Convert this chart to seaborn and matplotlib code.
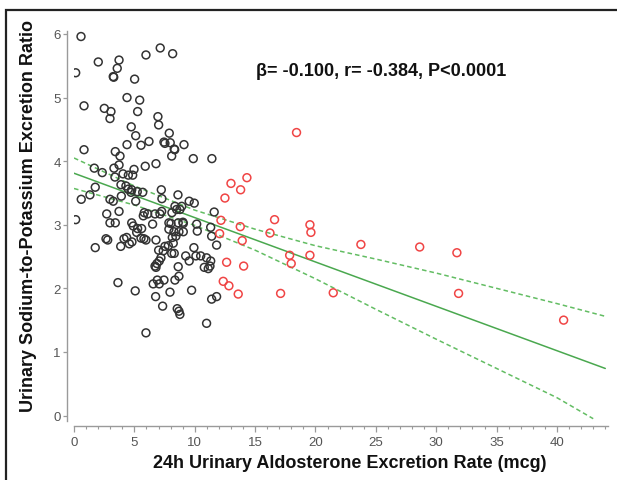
import numpy as np
import pandas as pd
import matplotlib
matplotlib.use("Agg")
import matplotlib.pyplot as plt
from matplotlib.patches import Rectangle
from matplotlib.ticker import MultipleLocator
import seaborn as sns

# ---- data ----
black_x = [0.58, 0.14, 2.01, 3.73, 3.58, 3.25, 3.29, 5.02, 5.96, 7.14, 8.17, 0.83, 2.51, 3.06, 2.98,
           4.39, 5.44, 5.27, 4.74, 5.11, 4.39, 5.55, 6.21, 6.95, 7.01, 7.45, 7.53, 7.89, 7.97, 8.30,
           8.34, 9.11, 8.09, 9.88, 11.42, 0.83, 3.42, 3.81, 6.79, 5.90, 4.97, 3.73, 3.31, 1.68, 2.34,
           4.06, 4.50, 4.86, 3.39, 3.89, 4.30, 4.50, 4.78, 4.72, 5.24, 5.69, 7.23, 8.61, 1.32, 1.76,
           0.60, 2.98, 3.25, 5.11, 3.92, 9.54, 9.96, 2.71, 3.73, 2.98, 3.42, 0.14, 4.78, 4.91, 5.27,
           5.60, 5.19, 5.82, 6.10, 5.74, 6.71, 7.26, 7.12, 8.36, 8.50, 8.77, 8.92, 8.11, 7.86, 8.03,
           8.63, 9.05, 6.51, 10.16, 7.86, 8.28, 8.69, 9.05, 10.21, 8.44, 11.40, 11.32, 2.65, 2.79, 4.14,
           4.36, 4.58, 4.80, 3.87, 5.55, 5.79, 6.79, 5.96, 1.76, 8.22, 7.81, 7.53, 8.09, 7.01, 8.30,
           7.20, 7.06, 6.87, 6.71, 6.79, 9.93, 9.25, 9.54, 10.10, 10.49, 10.98, 11.32, 11.26, 10.79, 11.12,
           11.81, 8.63, 8.69, 8.36, 6.90, 6.56, 7.06, 7.45, 3.64, 5.07, 9.74, 7.95, 6.76, 7.34, 8.55,
           8.69, 8.77, 11.81, 11.40, 10.98, 5.96, 7.28, 11.61, 9.02, 7.39, 8.14]
black_y = [5.96, 5.39, 5.56, 5.59, 5.46, 5.33, 5.32, 5.29, 5.67, 5.78, 5.69, 4.87, 4.83, 4.78, 4.67,
           5.00, 4.96, 4.78, 4.54, 4.40, 4.26, 4.25, 4.31, 4.70, 4.57, 4.30, 4.28, 4.44, 4.29, 4.19,
           4.18, 4.26, 4.08, 4.04, 4.04, 4.18, 4.15, 4.08, 3.96, 3.92, 3.87, 3.94, 3.89, 3.89, 3.82,
           3.80, 3.78, 3.78, 3.75, 3.63, 3.61, 3.56, 3.55, 3.51, 3.52, 3.51, 3.55, 3.47, 3.47, 3.59,
           3.40, 3.40, 3.37, 3.37, 3.45, 3.37, 3.34, 3.17, 3.21, 3.03, 3.03, 3.08, 3.03, 2.98, 2.94,
           2.94, 2.88, 3.19, 3.17, 3.14, 3.17, 3.21, 3.17, 3.29, 3.24, 3.24, 3.29, 3.19, 3.03, 3.02,
           3.03, 3.02, 3.01, 3.01, 2.93, 2.89, 2.89, 2.89, 2.90, 2.82, 2.82, 2.96, 2.78, 2.76, 2.78,
           2.80, 2.70, 2.73, 2.66, 2.79, 2.78, 2.76, 2.76, 2.64, 2.71, 2.67, 2.66, 2.55, 2.60, 2.55,
           2.48, 2.43, 2.39, 2.35, 2.33, 2.64, 2.51, 2.43, 2.51, 2.51, 2.48, 2.43, 2.35, 2.33, 2.31,
           2.68, 2.34, 2.19, 2.13, 2.13, 2.07, 2.07, 2.13, 2.09, 1.96, 1.97, 1.94, 1.87, 1.72, 1.68,
           1.64, 1.59, 1.87, 1.83, 1.45, 1.30, 3.41, 3.20, 3.04, 2.59, 2.80]

red_x = [18.43, 14.32, 13.00, 13.80, 12.50, 16.61, 19.54, 19.62, 12.17, 13.77, 12.06, 16.23, 13.93,
         23.76, 17.86, 19.54, 17.99, 12.64, 14.05, 12.36, 12.83, 13.60, 17.11, 21.47, 28.63, 31.71,
         31.85, 40.55]
red_y = [4.45, 3.74, 3.65, 3.55, 3.42, 3.08, 3.00, 2.88, 3.07, 2.97, 2.86, 2.87, 2.75,
         2.69, 2.52, 2.52, 2.39, 2.41, 2.35, 2.11, 2.04, 1.91, 1.92, 1.93, 2.65, 2.56,
         1.92, 1.50]

fit_x = [0, 44]
fit_y = [3.81, 0.74]

band_x = [0, 5, 10, 15, 20, 25, 30, 35, 40, 44]
upper_y = [4.05, 3.61, 3.23, 2.93, 2.67, 2.46, 2.24, 2.00, 1.76, 1.56]
lower_x = [0, 5, 10, 15, 20, 25, 30, 35, 40, 43]
lower_y = [3.57, 3.31, 2.99, 2.60, 2.15, 1.67, 1.20, 0.74, 0.28, -0.05]

x_ticks = [0, 5, 10, 15, 20, 25, 30, 35, 40]
y_ticks = [0, 1, 2, 3, 4, 5, 6]

annotation = "β= -0.100, r= -0.384, P<0.0001"
x_label = "24h Urinary Aldosterone Excretion Rate (mcg)"
y_label = "Urinary Sodium-to-Potassium Excretion Ratio"

# ---- drawing ----
sns.set_theme(style="ticks")
plt.rcParams['font.family'] = ['Liberation Sans', 'DejaVu Sans']

W, H = 617, 481
fig = plt.figure(figsize=(W / 100, H / 100), dpi=100)
ax = fig.add_axes([74 / W, (H - 421.6) / H, 533.7 / W, 389.8 / H])

green_solid = "#4aa84f"
green_dash = "#63bd63"

sns.lineplot(x=fit_x, y=fit_y, ax=ax, color=green_solid, lw=1.1)
sns.lineplot(x=band_x, y=upper_y, ax=ax, color=green_dash, lw=1.1, linestyle=(0, (3, 2)))
sns.lineplot(x=lower_x, y=lower_y, ax=ax, color=green_dash, lw=1.1, linestyle=(0, (3, 2)))

sns.scatterplot(x=black_x, y=black_y, ax=ax, marker="o", s=32,
                facecolor="none", edgecolor="#333333", linewidth=1.1, zorder=3)
sns.scatterplot(x=red_x, y=red_y, ax=ax, marker="o", s=32,
                facecolor="none", edgecolor="#f04545", linewidth=1.1, zorder=3)

ax.set_xlim(0, 44.2)
ax.set_ylim(-0.08, 6.05)
ax.set_xticks(x_ticks)
ax.set_yticks(y_ticks)
ax.xaxis.set_minor_locator(MultipleLocator(1))

for s in ["top", "right"]:
    ax.spines[s].set_visible(False)
ax.spines["left"].set_position(("outward", 5))
ax.spines["bottom"].set_position(("outward", 4))
for s in ["left", "bottom"]:
    ax.spines[s].set_color("#9a9a9a")
    ax.spines[s].set_linewidth(1.0)
ax.spines["bottom"].set_bounds(0, 44.2)

ax.tick_params(axis="both", which="major", colors="#9a9a9a", labelcolor="#555555",
               labelsize=9.5, width=0.9)
ax.tick_params(axis="x", which="major", length=4, pad=3)
ax.tick_params(axis="y", which="major", length=3, pad=1.5)
ax.tick_params(axis="x", which="minor", colors="#9a9a9a", length=2.5, width=0.8)

ax.set_xlabel(x_label, fontsize=13, fontweight="bold", color="#111111")
ax.xaxis.set_label_coords(0.517, -0.085)
ax.set_ylabel(y_label, fontsize=13, fontweight="bold", color="#111111")
ax.yaxis.set_label_coords(-0.069, 0.527)

ax.text(381 / W, (H - 72) / H, annotation, transform=fig.transFigure, ha="center", va="center",
        fontsize=13, fontweight="bold", color="#111111",
        family=["Liberation Sans", "DejaVu Sans"])

fig.patches.append(Rectangle((6 / W, -0.05), 2.0, (H - 11) / H + 0.05, transform=fig.transFigure,
                             fill=False, edgecolor="#222222", linewidth=1.6))

fig.savefig("out.png", dpi=100)
